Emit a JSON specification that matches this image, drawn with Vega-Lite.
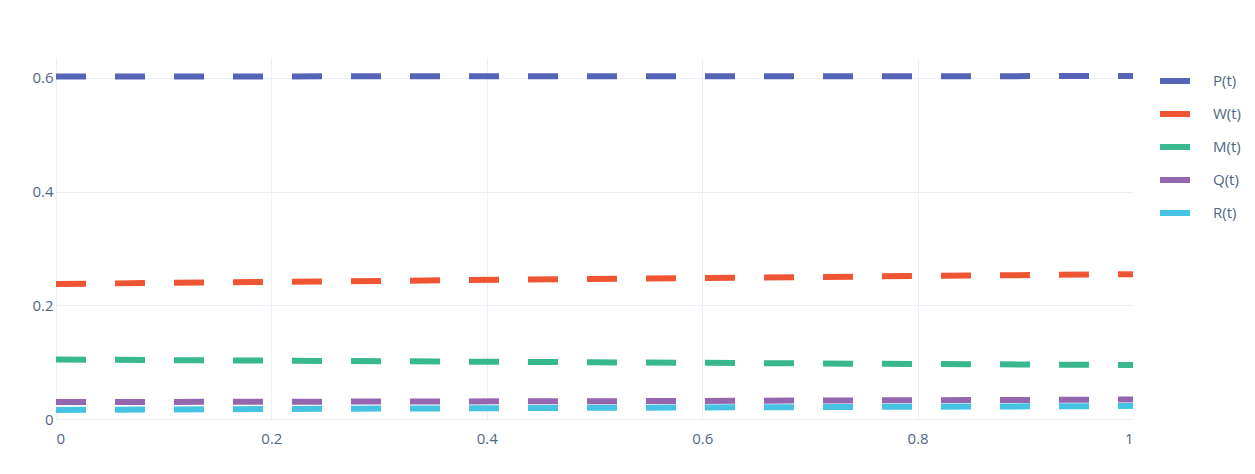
{
  "$schema": "https://vega.github.io/schema/vega-lite/v6.json",
  "autosize": {"type": "none"},
  "padding": {"left": 56, "top": 58, "right": 122, "bottom": 55},
  "width": 1077,
  "height": 361,
  "background": "white",
  "data": {
    "values": [
      {"t": 0, "series": "P(t)", "value": 0.6025},
      {"t": 0.25, "series": "P(t)", "value": 0.6027},
      {"t": 0.5, "series": "P(t)", "value": 0.6028},
      {"t": 0.75, "series": "P(t)", "value": 0.603},
      {"t": 1, "series": "P(t)", "value": 0.6032},
      {"t": 0, "series": "W(t)", "value": 0.2376},
      {"t": 0.25, "series": "W(t)", "value": 0.242},
      {"t": 0.5, "series": "W(t)", "value": 0.2464},
      {"t": 0.75, "series": "W(t)", "value": 0.2506},
      {"t": 1, "series": "W(t)", "value": 0.2548},
      {"t": 0, "series": "M(t)", "value": 0.1046},
      {"t": 0.25, "series": "M(t)", "value": 0.1022},
      {"t": 0.5, "series": "M(t)", "value": 0.0998},
      {"t": 0.75, "series": "M(t)", "value": 0.0973},
      {"t": 1, "series": "M(t)", "value": 0.095},
      {"t": 0, "series": "Q(t)", "value": 0.0298},
      {"t": 0.25, "series": "Q(t)", "value": 0.0305},
      {"t": 0.5, "series": "Q(t)", "value": 0.0313},
      {"t": 0.75, "series": "Q(t)", "value": 0.0327},
      {"t": 1, "series": "Q(t)", "value": 0.0342},
      {"t": 0, "series": "R(t)", "value": 0.016},
      {"t": 0.25, "series": "R(t)", "value": 0.0179},
      {"t": 0.5, "series": "R(t)", "value": 0.0197},
      {"t": 0.75, "series": "R(t)", "value": 0.0213},
      {"t": 1, "series": "R(t)", "value": 0.0228}
    ]
  },
  "mark": {"type": "line", "strokeWidth": 6, "strokeDash": [30, 29], "strokeCap": "butt", "clip": true},
  "encoding": {
    "x": {
      "field": "t", "type": "quantitative",
      "scale": {"domain": [0, 1], "nice": false, "zero": false},
      "axis": {
        "title": null, "values": [0, 0.2, 0.4, 0.6, 0.8, 1], "format": "~g", "labelPadding": 12,
        "gridOpacity": {"condition": {"test": "datum.value >= 1", "value": 0}, "value": 1}
      }
    },
    "y": {
      "field": "value", "type": "quantitative",
      "scale": {"domain": [0, 0.635], "nice": false},
      "axis": {"title": null, "values": [0, 0.2, 0.4, 0.6], "format": "~g", "labelPadding": 3}
    },
    "color": {
      "field": "series", "type": "nominal",
      "sort": ["P(t)", "W(t)", "M(t)", "Q(t)", "R(t)"],
      "scale": {
        "domain": ["P(t)", "W(t)", "M(t)", "Q(t)", "R(t)"],
        "range": ["#5664b8", "#ef5533", "#38b98c", "#9466b0", "#45c3e2"]
      },
      "legend": {
        "title": null, "orient": "right", "offset": 19, "padding": 5,
        "symbolType": "stroke", "symbolSize": 900, "symbolStrokeWidth": 6, "symbolDash": [40, 0],
        "labelFontSize": 15, "labelFont": "Open Sans", "labelColor": "#506784",
        "labelOffset": 20, "rowPadding": 3
      }
    },
    "order": {"field": "series"}
  },
  "config": {
    "view": {"stroke": null},
    "axis": {
      "domain": false, "ticks": false, "grid": true, "gridColor": "#ebf0f8", "gridWidth": 1,
      "labelFont": "Open Sans", "labelFontSize": 15, "labelColor": "#506784"
    }
  }
}
